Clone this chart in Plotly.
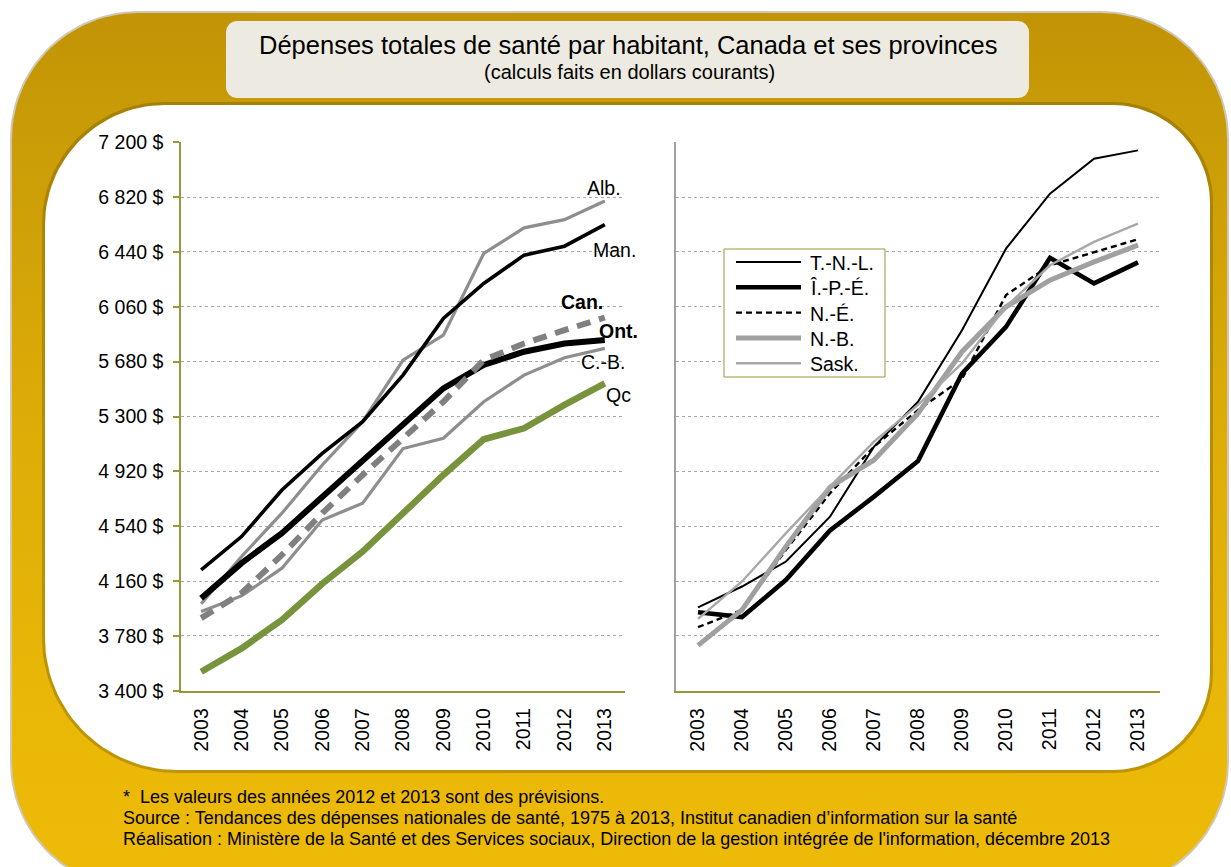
import numpy as np
import plotly.graph_objects as go

# ---- data -------------------------------------------------------------
years = ["2003", "2004", "2005", "2006", "2007", "2008",
         "2009", "2010", "2011", "2012", "2013"]

# left panel: Canada and the larger provinces ($ per capita)
alb = [4002, 4330, 4630, 4964, 5264, 5691, 5864, 6430, 6607, 6664, 6793]
man = [4237, 4468, 4791, 5045, 5264, 5587, 5979, 6222, 6418, 6480, 6630]
can = [3903, 4076, 4341, 4630, 4895, 5149, 5402, 5691, 5806, 5898, 5986]
ont = [4041, 4284, 4492, 4745, 4999, 5241, 5495, 5657, 5749, 5806, 5830]
cb = [3949, 4057, 4249, 4583, 4699, 5078, 5149, 5402, 5587, 5707, 5772]
qc = [3531, 3693, 3891, 4141, 4364, 4630, 4895, 5142, 5218, 5380, 5530]

# right panel: Atlantic provinces and Saskatchewan
tnl = [3977, 4122, 4295, 4606, 5091, 5402, 5898, 6463, 6844, 7086, 7144]
ipe = [3944, 3910, 4168, 4510, 4745, 4992, 5598, 5921, 6400, 6222, 6368]
ne = [3840, 3960, 4376, 4768, 5091, 5345, 5560, 6141, 6348, 6440, 6528]
nb = [3714, 3960, 4400, 4810, 4999, 5322, 5749, 6060, 6245, 6371, 6487]
sask = [3898, 4157, 4492, 4814, 5126, 5380, 5668, 6060, 6348, 6510, 6636]

y_ticks = [3400, 3780, 4160, 4540, 4920, 5300, 5680, 6060, 6440, 6820, 7200]
y_ticklabels = ["3 400 $", "3 780 $", "4 160 $", "4 540 $", "4 920 $", "5 300 $",
                "5 680 $", "6 060 $", "6 440 $", "6 820 $", "7 200 $"]

title = "Dépenses totales de santé par habitant, Canada et ses provinces"
subtitle = "(calculs faits en dollars courants)"
notes = [
    "*  Les valeurs des années 2012 et 2013 sont des prévisions.",
    "Source : Tendances des dépenses nationales de santé, 1975 à 2013, Institut canadien d’information sur la santé",
    "Réalisation : Ministère de la Santé et des Services sociaux, Direction de la gestion intégrée de l'information, décembre 2013",
]

# ---- page geometry ---------------------------------------------------
W, H = 1231, 867
FONT = "Liberation Sans, Arial, sans-serif"
OLIVE = "#9A963A"
GRID = "#A8A8A8"


def rounded_rect(x0, y0, x1, y1, r, n=30):
    """Closed outline of a rounded rectangle in page pixels (y down)."""
    if np.isscalar(r):
        r = [r, r, r, r]  # tl, tr, br, bl
    tl, tr, br, bl = r
    xs, ys = [], []
    for (cx, cy, rad, a0, a1) in [
        (x0 + tl, y0 + tl, tl, 180, 270),
        (x1 - tr, y0 + tr, tr, 270, 360),
        (x1 - br, y1 - br, br, 0, 90),
        (x0 + bl, y1 - bl, bl, 90, 180),
    ]:
        t = np.radians(np.linspace(a0, a1, n))
        xs.extend(cx + rad * np.cos(t))
        ys.extend(cy + rad * np.sin(t))
    xs.append(xs[0])
    ys.append(ys[0])
    return xs, ys


fig = go.Figure()


def deco(xs, ys, **kw):
    fig.add_trace(go.Scatter(x=xs, y=ys, mode="lines", fill="toself",
                             line=dict(width=0), hoverinfo="skip",
                             showlegend=False, xaxis="x", yaxis="y", **kw))


# outer gold frame with soft outline
xs, ys = rounded_rect(10, 11, 1229, 890, 128)
deco(xs, ys, fillcolor="rgba(120,95,40,0.35)")
xs, ys = rounded_rect(12, 13, 1227, 888, 126)
deco(xs, ys, fillcolor="#D6A808",
     fillgradient=dict(type="vertical", start=13, stop=867,
                       colorscale=[[0, "#C29406"], [0.12, "#C89B07"],
                                   [0.45, "#DCAB08"], [0.8, "#E9B707"],
                                   [1, "#EDBA08"]]))

# inner white panel with a faint shadow
xs, ys = rounded_rect(42, 102, 1213, 773, [122, 100, 100, 135])
deco(xs, ys, fillcolor="rgba(90,70,0,0.30)")
xs, ys = rounded_rect(45, 105, 1210, 770, [120, 98, 98, 132])
deco(xs, ys, fillcolor="white")

# title box
xs, ys = rounded_rect(226, 21, 1029, 98, 11)
deco(xs, ys, fillcolor="#EDEBE1")

# ---- left panel ------------------------------------------------------
left_series = [
    ("Alb.", alb, dict(color="#8E8E8E", width=3.2)),
    ("Man.", man, dict(color="#000000", width=3.6)),
    ("C.-B.", cb, dict(color="#8E8E8E", width=3.2)),
    ("Ont.", ont, dict(color="#000000", width=6)),
    ("Can.", can, dict(color="#808080", width=6, dash="14px,9px")),
    ("Qc", qc, dict(color="#77933C", width=6.5)),
]
for name, vals, ln in left_series:
    fig.add_trace(go.Scatter(x=years, y=vals, name=name, mode="lines",
                             line=ln, showlegend=False,
                             xaxis="x2", yaxis="y2"))

# ---- right panel -----------------------------------------------------
right_series = [
    ("T.-N.-L.", tnl, dict(color="#000000", width=2)),
    ("Î.-P.-É.", ipe, dict(color="#000000", width=4.6)),
    ("N.-É.", ne, dict(color="#000000", width=2.4, dash="6px,4px")),
    ("N.-B.", nb, dict(color="#A0A0A0", width=5)),
    ("Sask.", sask, dict(color="#A8A8A8", width=2.4)),
]
for name, vals, ln in right_series:
    fig.add_trace(go.Scatter(x=years, y=vals, name=name, mode="lines",
                             line=ln, showlegend=False,
                             xaxis="x3", yaxis="y3"))

# ---- axes ------------------------------------------------------------
ydom = [1 - 690.7 / H, 1 - 142.3 / H]
common_x = dict(type="category", categoryorder="array", categoryarray=years,
                range=[-0.5, 10.5], showgrid=False, showline=True,
                linecolor=OLIVE, linewidth=1.5, ticks="", tickangle=-90,
                ticklabelstandoff=8,
                tickfont=dict(family=FONT, size=19.5, color="black"),
                automargin=False, fixedrange=True)
common_y = dict(range=[3400, 7200], tickvals=y_ticks, ticktext=y_ticklabels,
                showgrid=True, gridcolor=GRID, gridwidth=1, griddash="dot",
                zeroline=False, automargin=False, fixedrange=True)

fig.update_layout(
    width=W, height=H, autosize=False,
    margin=dict(l=0, r=0, t=0, b=0, pad=0, autoexpand=False),
    paper_bgcolor="white", plot_bgcolor="rgba(0,0,0,0)",
    xaxis=dict(domain=[0, 1], range=[0, W], visible=False, fixedrange=True,
               automargin=False),
    yaxis=dict(domain=[0, 1], range=[H, 0], visible=False, fixedrange=True,
               automargin=False),
    xaxis2=dict(domain=[181 / W, 625 / W], anchor="y2", **common_x),
    yaxis2=dict(domain=ydom, anchor="x2", showline=True, linecolor=OLIVE,
                linewidth=1.5, ticks="outside", ticklen=6, tickcolor=OLIVE,
                tickwidth=1.5, ticklabelstandoff=6,
                tickfont=dict(family=FONT, size=19.5, color="black"),
                **common_y),
    xaxis3=dict(domain=[676 / W, 1160 / W], anchor="y3", **common_x),
    yaxis3=dict(domain=ydom, anchor="x3", showline=True, linecolor="#A0A0A0",
                linewidth=1.5, ticks="", showticklabels=False, **common_y),
    showlegend=False,
    font=dict(family=FONT, color="black"),
)

# ---- legend box for the right panel (page pixels) --------------------
shapes = [dict(type="rect", x0=724, x1=885, y0=249, y1=377,
               xref="x", yref="y", fillcolor="white",
               line=dict(color=OLIVE, width=1), layer="above")]
ann = []
for i, (name, vals, ln) in enumerate(right_series):
    yy = 262 + i * 25.3
    shapes.append(dict(type="line", x0=736, x1=801, y0=yy, y1=yy,
                       xref="x", yref="y", layer="above",
                       line=dict(color=ln["color"], width=ln["width"],
                                 dash=ln.get("dash", "solid"))))
    ann.append(dict(x=808, y=yy + 1, text=name, xanchor="left",
                    font=dict(size=19.5)))

# ---- text ------------------------------------------------------------
ann.append(dict(x=628, y=45, text=title, font=dict(size=25.5)))
ann.append(dict(x=629, y=72, text=subtitle, font=dict(size=20)))

series_labels = [
    ("Alb.", 604, 188, False),
    ("Man.", 614, 250, False),
    ("Can.", 582, 302, True),
    ("Ont.", 618, 331, True),
    ("C.-B.", 603, 362, False),
    ("Qc", 618, 395, False),
]
for txt, px, py, bold in series_labels:
    ann.append(dict(x=px, y=py, text=f"<b>{txt}</b>" if bold else txt,
                    font=dict(size=19.5)))

for i, line in enumerate(notes):
    ann.append(dict(x=121, y=797 + i * 20.8, text=line, xanchor="left",
                    font=dict(size=18)))

for a in ann:
    a.setdefault("xanchor", "center")
    a.update(xref="x", yref="y", yanchor="middle", showarrow=False)
    a["font"] = dict(family=FONT, color="black", **a["font"])
fig.update_layout(annotations=ann, shapes=shapes)

fig.write_html("out.html")
